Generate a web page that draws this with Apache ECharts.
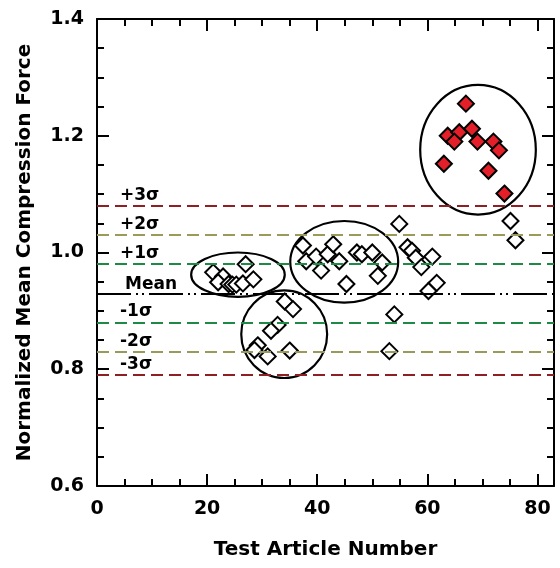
<!DOCTYPE html>
<html>
<head>
<meta charset="utf-8">
<style>
  html, body { margin: 0; padding: 0; background: #fff; }
  #chart { width: 560px; height: 568px; }
</style>
<script src="https://cdn.jsdelivr.net/npm/echarts@6/dist/echarts.min.js"></script>
</head>
<body>
<div id="chart"></div>
<script>
// in-control test articles (open diamonds)
const articleNo = [
  21.1, 22.9, 22.0, 23.9, 24.6, 25.3, 26.5, 27.0, 28.4,
  34.1, 35.6, 32.8, 31.6, 29.2, 28.6, 31.0, 35.0,
  37.4, 38.0, 39.8, 40.7, 41.9, 42.9, 44.0, 45.3, 47.2, 48.1, 50.0, 51.0, 51.8,
  53.1, 54.0, 54.9, 56.4, 57.2, 57.9, 58.9, 60.2, 60.9, 61.7, 75.1, 76.0
];
const compressionForce = [
  0.966, 0.959, 0.949, 0.946, 0.945, 0.945, 0.947, 0.980, 0.954,
  0.916, 0.903, 0.876, 0.866, 0.841, 0.833, 0.822, 0.832,
  1.012, 0.985, 0.993, 0.969, 0.997, 1.014, 0.985, 0.946, 1.000, 0.997, 1.000, 0.960, 0.983,
  0.831, 0.894, 1.049, 1.009, 1.003, 0.991, 0.975, 0.934, 0.993, 0.948, 1.054, 1.021
];
// out-of-limit test articles (red diamonds)
const outlierArticleNo = [67.0, 63.7, 65.8, 64.9, 68.1, 69.1, 72.0, 73.0, 63.0, 71.1, 74.0];
const outlierForce = [1.255, 1.200, 1.206, 1.190, 1.212, 1.190, 1.190, 1.175, 1.152, 1.140, 1.101];

const limitNames = ['+3σ', '+2σ', '+1σ', 'Mean', '-1σ', '-2σ', '-3σ'];
const limitValues = [1.078, 1.029, 0.981, 0.932, 0.883, 0.835, 0.786];

const xTickLabels = [0, 20, 40, 60, 80];
const xMinorTicks = [0, 5, 10, 15, 20, 25, 30, 35, 40, 45, 50, 55, 60, 65, 70, 75, 80];
const yTickLabels = [0.6, 0.8, 1.0, 1.2, 1.4];

// circled groups: centre article, centre force, half width, half height
const groupCircles = [
  [25.6, 0.962, 8.5, 0.038],
  [34.0, 0.860, 7.8, 0.075],
  [44.9, 0.984, 9.8, 0.070],
  [69.2, 1.176, 10.5, 0.111]
];

const FONT = 'DejaVu Sans';
const limitColors = ['#8e1f22', '#9c9a58', '#1f8a45', '#000', '#1f8a45', '#9c9a58', '#8e1f22'];

const chart = echarts.init(document.getElementById('chart'));

const xBase = { type: 'value', min: 0, max: 83, splitLine: { show: false } };
const tickStyle = { color: '#000', width: 2 };
const lineStyle = { color: '#000', width: 2 };
const titleStyle = { fontFamily: FONT, fontSize: 20, fontWeight: 'bold', color: '#000' };

const option = {
  animation: false,
  grid: { left: 97, right: 6, top: 19, bottom: 82 },
  xAxis: [
    {
      ...xBase,
      position: 'bottom',
      axisLine: { show: true, onZero: false, lineStyle },
      axisTick: { inside: true, length: 7, customValues: xMinorTicks, lineStyle: tickStyle },
      axisLabel: {
        customValues: xTickLabels, margin: 14,
        fontFamily: FONT, fontSize: 19, fontWeight: 'bold', color: '#000'
      },
      name: 'Test Article Number',
      nameLocation: 'middle',
      nameGap: 54,
      nameTextStyle: titleStyle
    },
    {
      ...xBase,
      position: 'bottom',
      axisLine: { show: false, onZero: false },
      axisTick: { inside: true, length: 12, customValues: xTickLabels, lineStyle: tickStyle },
      axisLabel: { show: false }
    },
    {
      ...xBase,
      position: 'top',
      axisLine: { show: true, onZero: false, lineStyle },
      axisTick: { inside: true, length: 7, customValues: xMinorTicks, lineStyle: tickStyle },
      axisLabel: { show: false }
    },
    {
      ...xBase,
      position: 'top',
      axisLine: { show: false, onZero: false },
      axisTick: { inside: true, length: 12, customValues: xTickLabels, lineStyle: tickStyle },
      axisLabel: { show: false }
    }
  ],
  yAxis: [
    {
      type: 'value', min: 0.6, max: 1.4, interval: 0.2,
      position: 'left',
      splitLine: { show: false },
      axisLine: { show: true, onZero: false, lineStyle },
      axisTick: { inside: true, length: 12, lineStyle: tickStyle },
      minorTick: { show: true, splitNumber: 4, length: 7, lineStyle: tickStyle },
      axisLabel: {
        customValues: yTickLabels, margin: 13,
        formatter: v => v.toFixed(1),
        fontFamily: FONT, fontSize: 19, fontWeight: 'bold', color: '#000'
      },
      name: 'Normalized Mean Compression Force',
      nameLocation: 'middle',
      nameGap: 62,
      nameTextStyle: titleStyle
    },
    {
      type: 'value', min: 0.6, max: 1.4, interval: 0.2,
      position: 'right',
      splitLine: { show: false },
      axisLine: { show: true, onZero: false, lineStyle },
      axisTick: { inside: true, length: 12, lineStyle: tickStyle },
      minorTick: { show: true, splitNumber: 4, length: 7, lineStyle: tickStyle },
      axisLabel: { show: false }
    }
  ],
  series: [
    {
      type: 'scatter',
      data: [],
      z: 1,
      markLine: {
        silent: true,
        symbol: 'none',
        animation: false,
        data: limitValues.map((v, i) => ({
          yAxis: v,
          name: limitNames[i],
          lineStyle: {
            color: limitColors[i],
            width: 2,
            type: limitNames[i] === 'Mean' ? [34, 5, 2, 4, 2, 5] : [12, 6]
          },
          label: {
            show: true,
            position: 'insideStartTop',
            distance: limitNames[i] === 'Mean' ? [28, 0] : [23, 2],
            formatter: '{b}',
            fontFamily: FONT, fontSize: 17, fontWeight: 'bold', color: '#000'
          }
        }))
      }
    },
    {
      type: 'scatter',
      z: 3,
      symbol: 'diamond',
      symbolSize: 16,
      itemStyle: { color: '#fff', borderColor: '#000', borderWidth: 2, opacity: 1 },
      data: articleNo.map((x, i) => [x, compressionForce[i]])
    },
    {
      type: 'scatter',
      z: 3,
      symbol: 'diamond',
      symbolSize: 16,
      itemStyle: { color: '#e3202a', borderColor: '#000', borderWidth: 2, opacity: 1 },
      data: outlierArticleNo.map((x, i) => [x, outlierForce[i]])
    }
  ]
};

chart.setOption(option);

const finder = { xAxisIndex: 0, yAxisIndex: 0 };
const circles = groupCircles.map(([cx, cy, hw, hh]) => {
  const c = chart.convertToPixel(finder, [cx, cy]);
  const e = chart.convertToPixel(finder, [cx + hw, cy + hh]);
  return {
    type: 'ellipse',
    silent: true,
    z: 4,
    shape: { cx: c[0], cy: c[1], rx: Math.abs(e[0] - c[0]), ry: Math.abs(e[1] - c[1]) },
    style: { fill: null, stroke: '#000', lineWidth: 2.2 }
  };
});
chart.setOption({ graphic: circles });
</script>
</body>
</html>
